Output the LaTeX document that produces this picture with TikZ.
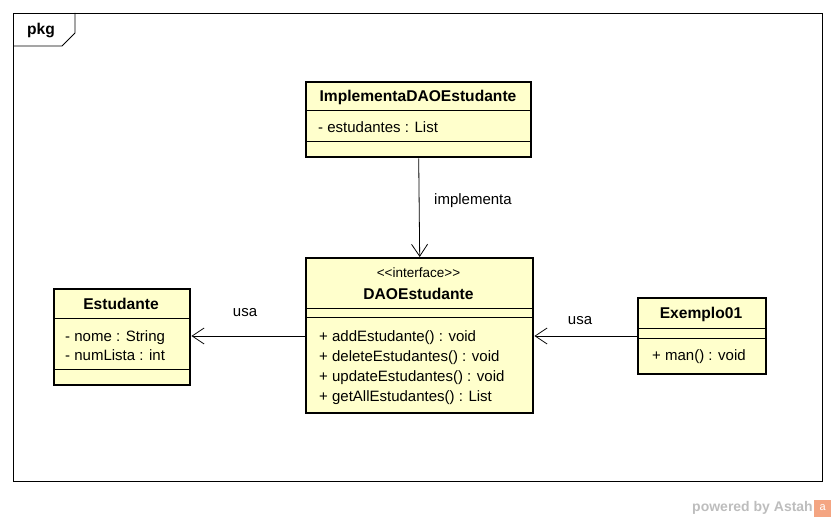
\documentclass[tikz,border=0pt]{standalone}
\usepackage{fontspec}
\setmainfont{Liberation Sans}
\usetikzlibrary{arrows.meta}
\definecolor{cls}{HTML}{FFFFCC}
\definecolor{wm}{HTML}{BDBDBD}
\definecolor{wmo}{HTML}{F4A582}
\begin{document}
\begin{tikzpicture}[x=1pt,y=-1pt,
 classbox/.style={draw=black, line width=2.4pt, fill=cls, rectangle, inner sep=0pt, anchor=north west},
 sepline/.style={line width=0.8pt},
 txt/.style={font=\fontsize{15}{17}\selectfont, inner sep=0pt, anchor=base west},
 ttl/.style={font=\bfseries\fontsize{15.6}{17}\selectfont, inner sep=0pt, anchor=base},
 lbl/.style={font=\fontsize{15}{17}\selectfont, inner sep=0pt},
 dep/.style={line width=0.8pt, -{Straight Barb[length=12pt,width=16pt,line width=0.8pt]}}]
\useasboundingbox (0,0) rectangle (836,521);
% package frame
\draw[line width=0.8pt] (13,13) rectangle (822,481);
\draw[line width=0.8pt] (75,13) -- (75,33) -- (62,46) -- (13,46);
\node[font=\bfseries\fontsize{15.6}{17}\selectfont, inner sep=0pt] (pkg) at (41,31) {pkg};

% ImplementaDAOEstudante
\node[classbox, minimum width=225pt, minimum height=75pt] (impl) at (305,81) {};
\draw[sepline] (305,110) -- (530,110);
\draw[sepline] (305,141) -- (530,141);
\node[ttl] (implT) at (418,101.5) {ImplementaDAOEstudante};
\node[txt] (implA) at (318,132.5) {- estudantes : List};

% DAOEstudante
\node[classbox, minimum width=227pt, minimum height=155pt] (dao) at (305,257) {};
\draw[sepline] (305,308) -- (532,308);
\draw[sepline] (305,317) -- (532,317);
\node[font=\fontsize{13.5}{15}\selectfont, inner sep=0pt, anchor=base] (daoS) at (418.5,278) {{<}{<}interface{>}{>}};
\node[ttl] (daoT) at (418.5,299.5) {DAOEstudante};
\node[txt] (daoM1) at (319,342) {+ addEstudante() : void};
\node[txt] (daoM2) at (319,362) {+ deleteEstudantes() : void};
\node[txt] (daoM3) at (319,382) {+ updateEstudantes() : void};
\node[txt] (daoM4) at (319,402) {+ getAllEstudantes() : List};

% Estudante
\node[classbox, minimum width=136pt, minimum height=96pt] (est) at (53,288) {};
\draw[sepline] (53,318) -- (189,318);
\draw[sepline] (53,369) -- (189,369);
\node[ttl] (estT) at (121,309.5) {Estudante};
\node[txt] (estA1) at (65,341.5) {- nome : String};
\node[txt] (estA2) at (65,360.5) {- numLista : int};

% Exemplo01
\node[classbox, minimum width=128pt, minimum height=76pt] (ex) at (637,297) {};
\draw[sepline] (637,328) -- (765,328);
\draw[sepline] (637,338) -- (765,338);
\node[ttl] (exT) at (701,318.5) {Exemplo01};
\node[txt] (exM) at (652,360.5) {+ man() : void};

% connectors
\draw[dep] (impl.south) -- (dao.north);
\node[lbl] (l1) at (473,201) {implementa};
\coordinate (usaL) at (0,336);
\draw[dep] (dao.west |- usaL) -- (est.east |- usaL);
\node[lbl] (l2) at (245,313) {usa};
\draw[dep] (ex.west |- usaL) -- (dao.east |- usaL);
\node[lbl] (l3) at (580,321) {usa};

% watermark
\node[font=\bfseries\fontsize{14}{16}\selectfont, text=wm, inner sep=0pt, anchor=east] (wmk) at (813,508) {powered by Astah};
\node[fill=wmo, minimum width=17pt, minimum height=17pt, inner sep=0pt, anchor=west, font=\fontsize{11}{11}\selectfont, text=white] (logo) at (814,508) {a};
\end{tikzpicture}
\end{document}
